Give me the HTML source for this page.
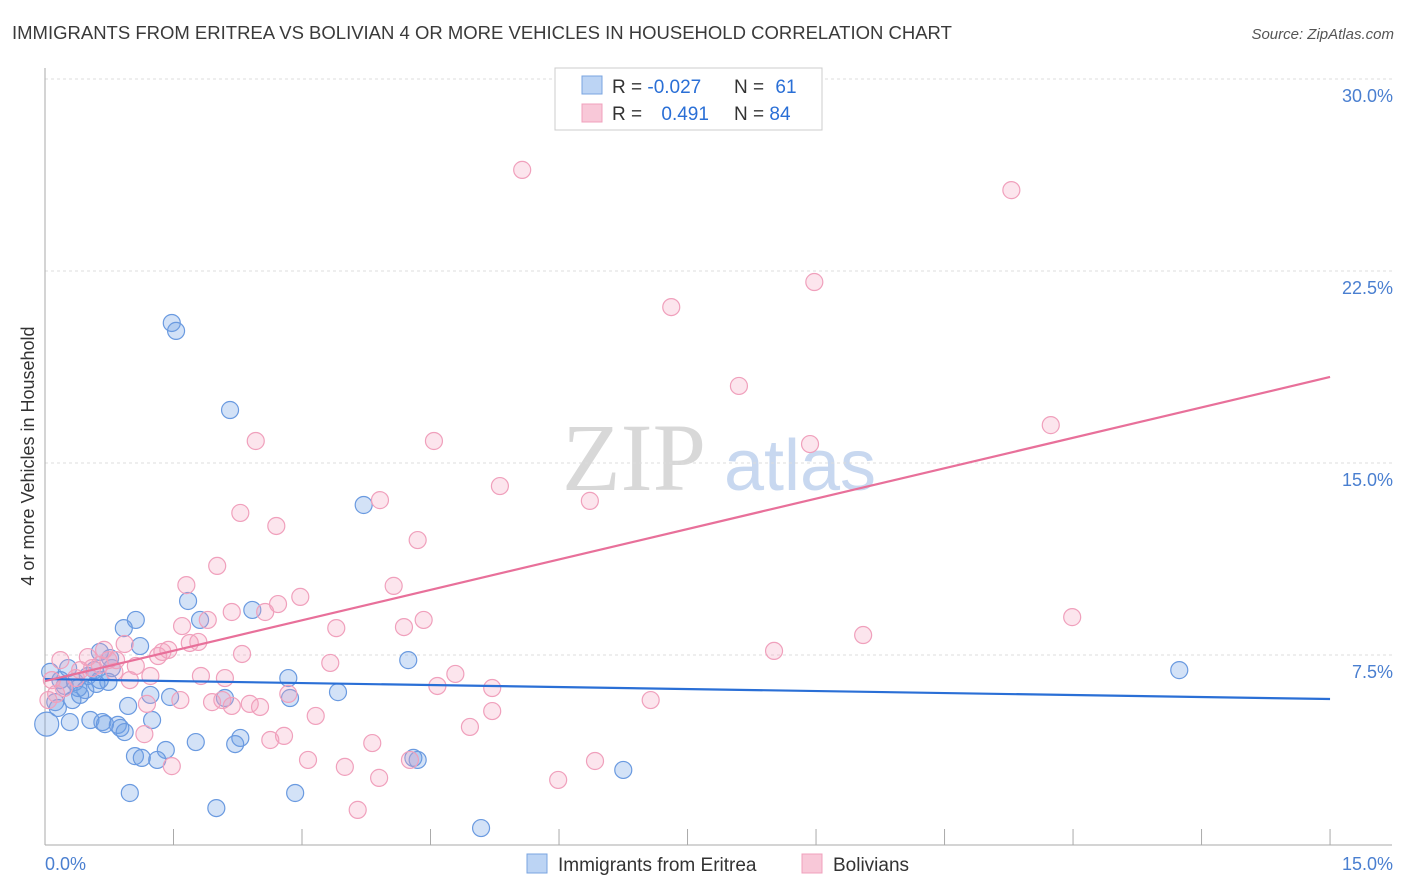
<!DOCTYPE html>
<html><head><meta charset="utf-8">
<style>
body{margin:0;background:#fff;font-family:"Liberation Sans",sans-serif;}
#wrap{position:relative;width:1406px;height:892px;overflow:hidden;}
</style></head>
<body>
<div id="wrap">
<svg id="svg" width="1406" height="892" xmlns="http://www.w3.org/2000/svg">
<text x="12" y="39" font-size="18.5" fill="#3a3a3a">IMMIGRANTS FROM ERITREA VS BOLIVIAN 4 OR MORE VEHICLES IN HOUSEHOLD CORRELATION CHART</text>
<text x="1394" y="39" font-size="15" fill="#555" font-style="italic" text-anchor="end">Source: ZipAtlas.com</text>
<text x="634" y="490" font-size="96" fill="#d8d8d8" font-family="Liberation Serif" text-anchor="middle">ZIP</text>
<text x="800" y="490" font-size="72" fill="#c8d8f0" text-anchor="middle">atlas</text>
<text transform="translate(34,456) rotate(-90)" font-size="18" fill="#333" text-anchor="middle">4 or more Vehicles in Household</text>
<g id="grid"></g><g id="pts"></g><g id="lines"></g>
<g>
<rect x="555" y="68" width="267" height="62" fill="#fff" stroke="#ccc"/>
<rect x="582" y="76" width="20" height="18" fill="#bcd4f4" stroke="#7aa4e0"/>
<rect x="582" y="104" width="20" height="18" fill="#f8c8d8" stroke="#f0a0bc"/>
<text x="612" y="93" font-size="19" fill="#333">R = <tspan fill="#2a6fd6">-0.027</tspan></text>
<text x="734" y="93" font-size="19" fill="#333">N = <tspan fill="#2a6fd6" dx="6">61</tspan></text>
<text x="612" y="120" font-size="19" fill="#333">R = <tspan fill="#2a6fd6" dx="14">0.491</tspan></text>
<text x="734" y="120" font-size="19" fill="#333">N = <tspan fill="#2a6fd6">84</tspan></text>
</g>
<g>
<rect x="527" y="854" width="20" height="19" fill="#bcd4f4" stroke="#7aa4e0"/>
<text x="558" y="871" font-size="19" fill="#333">Immigrants from Eritrea</text>
<rect x="802" y="854" width="20" height="19" fill="#f8c8d8" stroke="#f0a0bc"/>
<text x="833" y="871" font-size="19" fill="#333">Bolivians</text>
</g>
</svg>
</div>
<script>
const yTicks=[7.5,15,22.5,30];
const yTickLabels=["7.5%","15.0%","22.5%","30.0%"];
const xTicks=[0,1.5,3,4.5,6,7.5,9,10.5,12,13.5,15];
const xEndLabels=["0.0%","15.0%"];
const blueX=[1.48,1.53,2.16,3.72,1.67,1.06,0.92,1.81,2.42,1.11,0.64,0.76,0.27,0.06,0.18,0.35,0.47,0.58,0.74,2.84,4.24,3.42,2.86,1.23,1.46,2.10,0.97,0.12,0.15,0.53,0.29,0.67,0.70,0.85,0.88,1.25,0.93,0.02,2.28,2.22,1.76,1.41,1.05,1.13,1.31,4.35,4.30,6.75,0.99,2.00,2.92,5.09,13.24,0.41,0.50,0.23,0.39,0.64,0.78,0.32,0.60];
const blueY=[20.47,20.16,17.07,13.36,9.61,8.87,8.55,8.87,9.26,7.85,7.62,7.38,6.99,6.84,6.52,6.45,6.13,6.91,6.45,6.60,7.30,6.05,5.82,5.94,5.86,5.82,5.51,5.66,5.43,4.96,4.88,4.88,4.80,4.77,4.65,4.96,4.49,4.80,4.26,4.02,4.10,3.79,3.55,3.48,3.40,3.40,3.48,3.01,2.11,1.52,2.11,0.74,6.91,5.94,6.68,6.29,6.21,6.52,6.99,5.74,6.37];
const pinkX=[5.57,11.28,8.98,7.31,8.10,11.74,2.46,4.54,8.93,5.31,3.91,6.36,2.28,2.70,4.35,2.01,1.65,4.07,2.98,2.57,2.72,2.18,1.90,1.60,3.40,4.19,4.42,11.99,9.55,1.79,1.69,0.93,1.37,1.32,2.30,8.51,3.33,4.79,0.83,1.06,0.50,0.18,0.64,0.81,1.23,0.99,0.55,0.36,4.58,5.22,1.82,2.10,2.84,1.58,1.95,2.18,2.39,2.51,1.19,5.22,3.16,7.07,4.96,2.79,2.63,3.82,1.16,1.48,3.07,3.50,3.90,4.26,6.42,5.99,3.65,0.08,0.22,0.74,0.13,0.41,1.44,2.07,0.69,0.04];
const pinkY=[26.45,25.66,22.07,21.09,18.01,16.48,15.86,15.86,15.74,14.10,13.55,13.52,13.05,12.54,11.99,10.98,10.23,10.20,9.77,9.18,9.49,9.18,8.87,8.63,8.55,8.59,8.87,8.98,8.28,8.01,7.97,7.93,7.62,7.46,7.54,7.66,7.19,6.76,7.30,7.07,7.42,7.30,7.11,6.84,6.68,6.52,6.99,6.60,6.29,6.21,6.68,6.60,5.98,5.74,5.66,5.51,5.59,5.47,5.59,5.31,5.12,5.74,4.69,4.34,4.18,4.06,4.41,3.16,3.40,3.13,2.70,3.40,3.36,2.62,1.45,6.52,6.21,7.30,5.98,6.91,7.70,5.74,7.70,5.74];
const blueLine=[6.56,5.78];
const pinkLine=[6.48,18.36];
const NS="http://www.w3.org/2000/svg";
const X=v=>45+v*85.67, Y=v=>847-v*25.6;
function mk(tag,attrs,parent){const e=document.createElementNS(NS,tag);for(const k in attrs)e.setAttribute(k,attrs[k]);parent.appendChild(e);return e;}
const svg=document.getElementById('svg');
const grid=document.getElementById('grid'),pts=document.getElementById('pts'),lines=document.getElementById('lines');
yTicks.forEach((t,i)=>{
  const l=mk('line',{x1:45,x2:1392,y1:Y(t),y2:Y(t),stroke:'#ddd','stroke-dasharray':'3,3'},grid);
  
  
  const tx=mk('text',{x:1393,y:Y(t)+23,'font-size':18,fill:'#4a7fd0','text-anchor':'end'},grid);
  tx.textContent=yTickLabels[i];
  
  
});
const ax=mk('line',{x1:45,x2:1392,y1:845,y2:845,stroke:'#aaa'},grid);


const ay=mk('line',{x1:45,x2:45,y1:68,y2:845,stroke:'#aaa'},grid);


xTicks.forEach(t=>{
  const l=mk('line',{x1:X(t),x2:X(t),y1:829,y2:845,stroke:'#aaa'},grid);
  
  
});
[[0,'start',xEndLabels[0]],[15,'end',xEndLabels[1]]].forEach(([v,a,s])=>{
  const tx=mk('text',{x:v===0?45:1393,y:870,'font-size':18,fill:'#4a7fd0','text-anchor':a},grid);
  tx.textContent=s;
  
  
});
blueX.forEach((x,i)=>{
  const c=mk('circle',{cx:X(x),cy:Y(blueY[i]),r:i===37?12:8.5,fill:'rgba(110,160,230,0.3)',stroke:'#6a9ae0','stroke-width':1.2},pts);
  
  
});
pinkX.forEach((x,i)=>{
  const c=mk('circle',{cx:X(x),cy:Y(pinkY[i]),r:8.5,fill:'rgba(245,160,190,0.28)',stroke:'#f0a0bc','stroke-width':1.2},pts);
  
  
});
const bl=mk('line',{x1:X(0),x2:X(15),y1:Y(blueLine[0]),y2:Y(blueLine[1]),stroke:'#2a6fd6','stroke-width':2.2},lines);


const pl=mk('line',{x1:X(0),x2:X(15),y1:Y(pinkLine[0]),y2:Y(pinkLine[1]),stroke:'#e8709a','stroke-width':2.2},lines);


</script>
</body></html>
